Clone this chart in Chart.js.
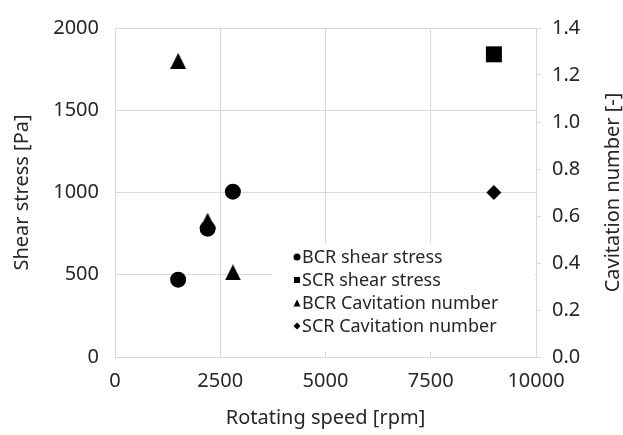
<!DOCTYPE html>
<html>
<head>
<meta charset="utf-8">
<script src="https://cdn.jsdelivr.net/npm/chart.js@4.4.0/dist/chart.umd.min.js"></script>
<style>
    html, body { margin: 0; padding: 0; background: #ffffff; }
    #wrap { width: 623px; height: 435px; }
</style>
</head>
<body>
<div id="wrap"><canvas id="chart" width="623" height="435"></canvas></div>
<script>
// Data
const bcrSpeed = [1500, 2200, 2800];
const bcrShear = [470, 780, 1005];
const bcrCavitation = [1.26, 0.58, 0.36];
const scrSpeed = [9000];
const scrShear = [1840];
const scrCavitation = [0.70];

const seriesLabels = ['BCR shear stress', 'SCR shear stress', 'BCR Cavitation number', 'SCR Cavitation number'];
const xTitle = 'Rotating speed [rpm]';
const yTitle = 'Shear stress [Pa]';
const y1Title = 'Cavitation number [-]';

// Styles
const FONT = '"Noto Sans", "Open Sans", sans-serif';
const TEXT_COLOR = '#262626';
const GRID_COLOR = '#d9d9d9';
const MARK_COLOR = '#000000';

function toPoints(xs, ys) {
    return xs.map((x, i) => ({ x: x, y: ys[i] }));
}

// Triangle marker centred on its bounding box (Excel style)
function makeTriangle(w, h) {
    const c = document.createElement('canvas');
    c.width = w;
    c.height = h;
    const g = c.getContext('2d');
    g.fillStyle = MARK_COLOR;
    g.beginPath();
    g.moveTo(w / 2, 0);
    g.lineTo(w, h);
    g.lineTo(0, h);
    g.closePath();
    g.fill();
    return c;
}
const triangleMark = makeTriangle(16, 16);

/**
 * Legend box inside the plot area plus right axis title
 */
const extrasPlugin = {
    id: 'extras',
    beforeDatasetsDraw(chart) {
        const ctx = chart.ctx;
        ctx.save();
        ctx.fillStyle = '#ffffff';
        ctx.fillRect(272, 243, 263, 109);
        ctx.restore();
    },
    afterDatasetsDraw(chart) {
        const ctx = chart.ctx;
        ctx.save();
        ctx.font = '18px ' + FONT;
        ctx.textBaseline = 'middle';
        ctx.textAlign = 'left';
        const shapes = ['circle', 'square', 'triangle', 'diamond'];
        seriesLabels.forEach((label, i) => {
            const y = 257 + i * 23;
            const mx = 297;
            ctx.fillStyle = MARK_COLOR;
            ctx.beginPath();
            if (shapes[i] === 'circle') {
                ctx.arc(mx, y, 3.5, 0, Math.PI * 2);
            } else if (shapes[i] === 'square') {
                ctx.rect(mx - 3, y - 3, 6, 6);
            } else if (shapes[i] === 'triangle') {
                ctx.moveTo(mx, y - 3.5);
                ctx.lineTo(mx + 3.5, y + 3.5);
                ctx.lineTo(mx - 3.5, y + 3.5);
                ctx.closePath();
            } else {
                ctx.moveTo(mx, y - 3.5);
                ctx.lineTo(mx + 3.5, y);
                ctx.lineTo(mx, y + 3.5);
                ctx.lineTo(mx - 3.5, y);
                ctx.closePath();
            }
            ctx.fill();
            ctx.fillStyle = TEXT_COLOR;
            ctx.fillText(label, 302, y + 1);
        });

        // Right axis title, read bottom to top
        ctx.font = '20px ' + FONT;
        ctx.textAlign = 'center';
        ctx.translate(613, (chart.chartArea.top + chart.chartArea.bottom) / 2);
        ctx.rotate(-Math.PI / 2);
        ctx.fillText(y1Title, 0, 0);
        ctx.restore();
    }
};

const ctx = document.getElementById('chart').getContext('2d');
const chart = new Chart(ctx, {
    type: 'scatter',
    data: {
        datasets: [
            {
                label: seriesLabels[0],
                data: toPoints(bcrSpeed, bcrShear),
                yAxisID: 'y',
                order: 4,
                pointStyle: 'circle',
                pointRadius: 8,
                backgroundColor: MARK_COLOR,
                borderColor: MARK_COLOR,
                borderWidth: 0
            },
            {
                label: seriesLabels[1],
                data: toPoints(scrSpeed, scrShear),
                yAxisID: 'y',
                order: 3,
                pointStyle: 'rect',
                pointRadius: 11.3,
                backgroundColor: MARK_COLOR,
                borderColor: MARK_COLOR,
                borderWidth: 0
            },
            {
                label: seriesLabels[2],
                data: toPoints(bcrSpeed, bcrCavitation),
                yAxisID: 'y1',
                order: 2,
                pointStyle: triangleMark,
                pointRadius: 8,
                backgroundColor: MARK_COLOR,
                borderColor: MARK_COLOR,
                borderWidth: 0
            },
            {
                label: seriesLabels[3],
                data: toPoints(scrSpeed, scrCavitation),
                yAxisID: 'y1',
                order: 1,
                pointStyle: 'rectRot',
                pointRadius: 7.5,
                backgroundColor: MARK_COLOR,
                borderColor: MARK_COLOR,
                borderWidth: 0
            }
        ]
    },
    options: {
        responsive: false,
        animation: false,
        events: [],
        layout: { padding: { top: 23, left: 0, right: 0, bottom: 0 } },
        plugins: {
            legend: { display: false },
            tooltip: { enabled: false }
        },
        scales: {
            x: {
                type: 'linear',
                position: 'bottom',
                min: 0,
                max: 10000,
                afterFit: scale => { scale.height = 78; },
                ticks: {
                    stepSize: 2500,
                    padding: 12,
                    color: TEXT_COLOR,
                    font: { family: FONT, size: 20 },
                    maxRotation: 0,
                    callback: value => String(value)
                },
                grid: { color: GRID_COLOR, lineWidth: 1, drawTicks: false },
                border: { color: GRID_COLOR },
                title: {
                    display: true,
                    text: xTitle,
                    color: TEXT_COLOR,
                    font: { family: FONT, size: 20 },
                    padding: { top: 0, bottom: 5 }
                }
            },
            y: {
                type: 'linear',
                position: 'left',
                min: 0,
                max: 2000,
                afterFit: scale => { scale.width = 115; },
                ticks: {
                    stepSize: 500,
                    padding: 16,
                    color: TEXT_COLOR,
                    font: { family: FONT, size: 20 },
                    callback: value => String(value)
                },
                grid: { color: GRID_COLOR, lineWidth: 1, drawTicks: false },
                border: { color: GRID_COLOR },
                title: {
                    display: true,
                    text: yTitle,
                    color: TEXT_COLOR,
                    font: { family: FONT, size: 20 },
                    padding: { top: 10, bottom: 0 }
                }
            },
            y1: {
                type: 'linear',
                position: 'right',
                min: 0,
                max: 1.4,
                afterFit: scale => { scale.width = 87; },
                ticks: {
                    stepSize: 0.2,
                    padding: 11,
                    color: TEXT_COLOR,
                    font: { family: FONT, size: 20 },
                    callback: value => Number(value).toFixed(1)
                },
                grid: {
                    color: GRID_COLOR,
                    lineWidth: 1,
                    drawOnChartArea: false,
                    drawTicks: true,
                    tickLength: 5
                },
                border: { color: GRID_COLOR }
            }
        }
    },
    plugins: [extrasPlugin]
});
</script>
</body>
</html>
